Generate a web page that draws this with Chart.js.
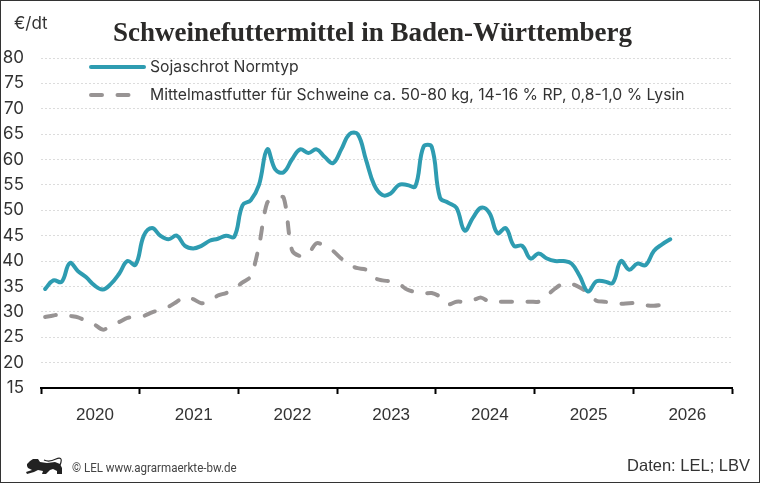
<!DOCTYPE html>
<html lang="de">
<head>
<meta charset="utf-8">
<title>Schweinefuttermittel in Baden-Württemberg</title>
<script src="https://cdn.jsdelivr.net/npm/chart.js@4"></script>
<style>
html, body { margin: 0; padding: 0; background: #fff; }
#box { position: relative; width: 760px; height: 483px; overflow: hidden; }
#box canvas { position: absolute; left: 0; top: 0; }
#frame { position: absolute; left: 0; top: 0; width: 758px; height: 481px; border: 1px solid #333; }
#lion { position: absolute; left: 26px; top: 457px; }
.txt { position: absolute; white-space: nowrap; color: #333; }
#unit { left: 14px; top: 13px; font: 17px Inter; }
#head { left: 113px; top: 17px; font: bold 27px "Liberation Serif"; color: #2b2a29; }
#credit { left: 72px; top: 460px; font: 13px Roboto; color: #444; transform: scaleX(0.89); transform-origin: left; }
#source { right: 10px; top: 456px; font: 16.5px "Liberation Sans"; }
</style>
</head>
<body>
<div id="box">
	<canvas id="chart" width="760" height="483"></canvas>
	<div id="frame"></div>
	<div class="txt" id="unit">€/dt</div>
	<div class="txt" id="head">Schweinefuttermittel in Baden-Württemberg</div>
	<svg id="lion" width="37" height="19" viewBox="26 457 37 19">
		<path fill="#222" d="M27,464 L30,461 L33,459 L38,459 L40,462 L47,463 L55,462 L60,464 L62,468 L62,474 L57,474 L57,471 L53,469 L50,470 L46,474 L42,474 L43,471 L38,470 L34,472 L27,474 L26,472 L32,470 L28,468 L27,466 Z"/>
		<path fill="none" stroke="#222" stroke-width="1.2" d="M60,465 C63,458 60,457 56,459 C52,461 48,462 44,460"/>
	</svg>
	<div class="txt" id="credit">© LEL www.agrarmaerkte-bw.de</div>
	<div class="txt" id="source">Daten: LEL; LBV</div>
</div>
<script>
var years = [2020, 2021, 2022, 2023, 2024, 2025, 2026]

// monthly, starting January 2020
var soja = [
	34.5, 36.2, 35.9, 39.6, 38, 36.8, 35.2, 34.4, 35.5, 37.5, 40, 39.3,
	45, 46.5, 45, 44.3, 45, 43, 42.5, 43, 44, 44.4, 45, 44.8,
	51, 52, 55, 62, 58, 57.5, 60, 62, 61.3, 62, 60.5, 59.3,
	62, 65, 65, 60, 55, 53, 53.3, 55, 55, 54.7, 62.5, 62.5,
	52.5, 51.5, 50.5, 46, 48.5, 50.5, 49.5, 45.5, 46.5, 43, 43, 40.5,
	41.5, 40.5, 40, 40, 39.5, 37, 34, 36, 36, 35.7, 40, 38.3,
	39.5, 39.2, 42, 43.3, 44.3
]
var mast = [
	29, 29.3, 29.5, 29.2, 28.9, 28.2, 27.5, 26.5, 27.2, 28, 28.8, 29,
	29.2, 29.9, 30.4, 31, 32, 33, 32.5, 31.7, 32, 33.2, 33.7, 34.6,
	35.8, 37, 43, 51.5, 52.2, 52.5, 42.2, 41, 41.5, 43.5, 43, 42,
	40.5, 39.2, 38.6, 38.3, 36.7, 36.2, 36, 35.5, 34.4, 33.9, 33.6, 33.7,
	33, 31.5, 32, 32, 32.3, 32.8, 32, 32, 32, 32, 32, 32,
	32, 33.2, 34.6, 35.6, 35.5, 34.8, 33.7, 32.2, 32, 31.8, 31.6, 31.7,
	31.7, 31.3, 31.2, 31.4
]

function points(values) {
	return values.map(function (v, i) { return {x: i + 0.5, y: v} })
}

var legendLines = {
	id: 'legendLines'
	, afterDraw: function (chart) {
		var c = chart.ctx
		chart.data.datasets.forEach(function (ds, i) {
			var y = 67 + i * 28
			c.save()
			c.strokeStyle = ds.borderColor
			c.lineWidth = ds.borderWidth
			c.lineCap = 'round'
			c.setLineDash(ds.borderDash || [])
			c.beginPath()
			c.moveTo(91, y)
			c.lineTo(144, y)
			c.stroke()
			c.restore()
			c.fillStyle = '#333'
			c.font = '15.75px Inter'
			c.textBaseline = 'middle'
			c.fillText(ds.label, 150, y)
		})
	}
}

new Chart(document.getElementById('chart'), {
	type: 'line'
	, data: {
		datasets: [
			{
				label: 'Sojaschrot Normtyp'
				, data: points(soja)
				, borderColor: '#2e9cb1'
				, borderWidth: 4
				, tension: 0.4
				, pointRadius: 0
				, borderCapStyle: 'round'
				, borderJoinStyle: 'round'
			}
			, {
				label: 'Mittelmastfutter für Schweine ca. 50-80 kg, 14-16 % RP, 0,8-1,0 % Lysin'
				, data: points(mast)
				, borderColor: '#989494'
				, borderWidth: 4
				, borderDash: [11, 15.5]
				, tension: 0.3
				, pointRadius: 0
				, borderCapStyle: 'round'
				, borderJoinStyle: 'round'
			}
		]
	}
	, plugins: [legendLines]
	, options: {
		responsive: false
		, animation: false
		, layout: {padding: {left: 0, right: 28, top: 58, bottom: 0}}
		, plugins: {legend: {display: false}, tooltip: {enabled: false}}
		, scales: {
			x: {
				type: 'linear'
				, min: 0
				, max: 84
				, afterFit: function (s) { s.height = 95 }
				, border: {color: '#000', width: 2}
				, grid: {drawOnChartArea: false, tickLength: 6, tickColor: '#000', tickWidth: 2}
				, ticks: {
					stepSize: 12
					, autoSkip: false
					, maxRotation: 0
					, padding: 11
					, labelOffset: 54
					, color: '#333'
					, font: {family: 'Liberation Sans', size: 17}
					, callback: function (v) { return years[v / 12] || '' }
				}
			}
			, y: {
				min: 15
				, max: 80
				, afterFit: function (s) { s.width = 41 }
				, border: {display: false, dash: [2, 2]}
				, grid: {color: '#dcdcdc', lineWidth: 1, drawTicks: false}
				, ticks: {
					stepSize: 5
					, padding: 17
					, color: '#333'
					, font: {family: 'Inter', size: 17}
				}
			}
		}
	}
})
</script>
</body>
</html>
